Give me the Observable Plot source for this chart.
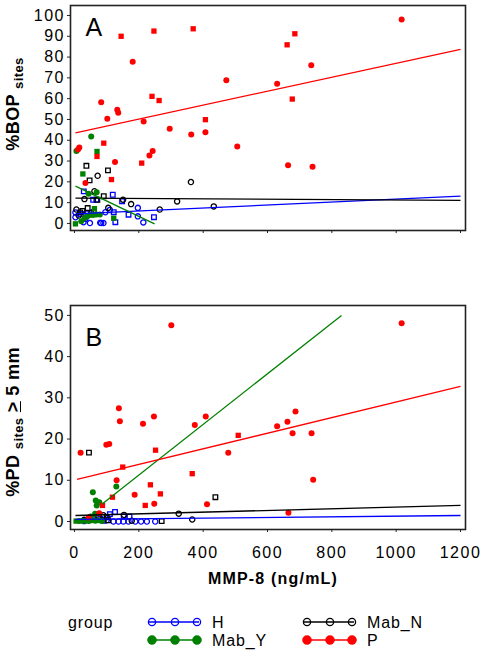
<!DOCTYPE html>
<html><head><meta charset="utf-8">
<script src="https://cdn.jsdelivr.net/npm/d3@7"></script>
<script src="https://cdn.jsdelivr.net/npm/@observablehq/plot@0.6"></script>
<style>
body{margin:0;background:#fff}
#wrap{position:relative;width:485px;height:659px;font-family:"Liberation Sans",Arial,sans-serif;color:#000;background:#fff;overflow:hidden}
.abs{position:absolute}
.ytitle{position:absolute;transform:translate(-50%,-50%) rotate(-90deg);white-space:nowrap;font-weight:bold;font-size:18px;line-height:20px;letter-spacing:0.4px}
.sub{font-size:13px;position:relative;top:4px}
</style></head>
<body><div id="wrap">
<div id="pa" class="abs" style="left:0;top:0"></div>
<div id="pb" class="abs" style="left:0;top:295px"></div>
<div class="ytitle" style="left:14px;top:104px">%BOP <span class="sub">sites</span></div>
<div class="ytitle" style="left:14px;top:422px">%PD <span class="sub">sites</span> <span style="text-decoration:underline">&gt;</span> 5 mm</div>
<div class="abs" style="left:143px;width:260px;top:569px;text-align:center;font-weight:bold;font-size:16px;line-height:20px;letter-spacing:1.2px">MMP-8 (ng/mL)</div>
<div id="legend" class="abs" style="left:0;top:600px"></div>
</div>
<script>
// ---------- data ----------
const groups = ["H", "Mab_N", "Mab_Y", "P"];
const groupColors = ["#0000ff", "#000000", "#008000", "#ff0000"];
const xTicks = [0, 200, 400, 600, 800, 1000, 1200];
const yTicksA = [0, 10, 20, 30, 40, 50, 60, 70, 80, 90, 100];
const yTicksB = [0, 10, 20, 30, 40, 50];

// Panel A: %BOP sites  [MMP-8, %BOP, marker]
const bopH = [[29,15.4,"s"],[119,13.8,"s"],[58,11.4,"s"],[68,11.4,"s"],[148,10.7,"s"],[197,7.5,"c"],[122,5.4,"s"],[168,4.2,"s"],[197,3.4,"c"],[247,3.0,"s"],[214,0.5,"c"],[127,0.6,"s"],[83,0.2,"c"],[90,0.2,"c"],[48,0.2,"c"],[3,3.0,"c"],[34,2.2,"c"],[96,5.4,"c"],[3,5.3,"c"],[28,0.6,"c"],[80,0.3,"c"],[110,6.5,"c"],[20,4.5,"s"],[40,4.8,"s"],[60,5.5,"s"]];
const bopMabN = [[37,27.7,"s"],[47,20.7,"s"],[72,22.9,"c"],[104,25.5,"s"],[62,15.5,"c"],[31,11.7,"c"],[71,11.4,"s"],[91,13.1,"s"],[151,11.4,"c"],[176,9.3,"c"],[319,10.6,"c"],[362,19.9,"c"],[265,6.7,"c"],[433,8.2,"c"],[6,6.7,"c"],[41,7.4,"s"],[105,7.5,"c"],[18,5.3,"s"],[13,3.8,"c"],[25,6.0,"s"],[52,5.0,"c"]];
const bopMabY = [[52,41.8,"c"],[70,34.6,"s"],[6,34.8,"c"],[26,23.8,"s"],[44,14.3,"c"],[69,15.0,"c"],[62,7.1,"s"],[122,2.5,"s"],[3,-0.2,"s"],[48,4.1,"c"],[58,4.1,"c"],[68,4.3,"c"],[79,4.3,"c"],[21,1.1,"c"],[31,2.5,"c"],[40,3.5,"c"]];
const bopP = [[145,90.0,"s"],[247,92.5,"s"],[369,93.6,"s"],[181,77.7,"c"],[472,68.8,"c"],[83,58.3,"c"],[133,54.7,"c"],[136,53.2,"c"],[102,50.3,"c"],[215,49.0,"c"],[241,61.1,"s"],[263,59.1,"s"],[407,49.9,"s"],[407,43.9,"c"],[296,45.5,"c"],[363,42.8,"c"],[506,37.0,"c"],[11,35.6,"c"],[15,36.5,"c"],[91,38.6,"s"],[126,29.5,"c"],[209,29.0,"s"],[243,34.8,"c"],[233,32.7,"c"],[70,32.2,"s"],[115,21.1,"s"],[34,19.4,"c"],[1017,98.1,"c"],[685,91.2,"s"],[661,85.9,"s"],[736,76.1,"c"],[630,67.2,"c"],[677,59.8,"s"],[664,28.0,"c"],[740,27.2,"c"]];
// fitted lines per group (H, Mab_N, Mab_Y, P): [x1, y1, x2, y2]
const bopFits = [[3,4.6,1200,13.1],[3,12.2,1200,11.1],[3,17.9,249,-0.2],[3,43.6,1200,83.7]];

// Panel B: %PD sites >= 5 mm
const pdH = [[121,0,"c"],[137,0,"c"],[152,0,"c"],[168,0,"c"],[189,0,"c"],[207,0,"c"],[225,0,"c"],[251,0,"c"],[90,0.2,"s"],[100,0.3,"c"],[110,1.8,"s"],[126,2.3,"s"],[153,1.2,"s"],[171,1.2,"s"],[60,0.5,"c"],[80,0.6,"s"],[30,0.1,"c"],[45,0.3,"c"]];
const pdMabN = [[45,16.7,"s"],[75,1.3,"c"],[90,1.5,"c"],[100,1.0,"s"],[105,0.3,"s"],[154,1.6,"c"],[178,0.2,"c"],[271,0.1,"s"],[324,1.9,"c"],[366,0.5,"c"],[438,5.9,"s"],[60,0.8,"c"],[30,0.4,"c"]];
const pdMabY = [[57,7.1,"c"],[130,8.5,"c"],[66,5.1,"c"],[77,4.7,"c"],[69,3.9,"c"],[64,1.9,"c"],[5,0.1,"s"],[15,0.1,"c"],[25,0.1,"c"],[35,0.2,"c"],[45,0.1,"c"],[55,0.3,"c"],[65,0.2,"c"],[75,0.3,"c"],[85,0.1,"c"],[50,1.2,"c"]];
const pdP = [[301,47.6,"c"],[19,16.7,"c"],[138,27.5,"c"],[141,24.3,"c"],[99,18.6,"c"],[108,18.8,"c"],[213,23.7,"c"],[247,25.5,"c"],[252,17.3,"s"],[374,23.4,"c"],[408,25.5,"c"],[150,13.2,"s"],[131,10.0,"c"],[366,11.6,"s"],[509,20.9,"s"],[478,16.7,"c"],[236,8.9,"s"],[187,6.5,"c"],[267,6.7,"s"],[220,3.9,"s"],[248,4.3,"c"],[412,4.2,"c"],[118,5.9,"s"],[87,3.9,"s"],[77,2.0,"c"],[44,1.0,"c"],[1017,48.1,"c"],[687,26.7,"c"],[662,24.2,"c"],[630,23.1,"c"],[678,21.4,"c"],[737,21.4,"c"],[742,10.1,"c"],[665,2.1,"c"]];
const pdFits = [[3,0.5,1200,1.46],[3,1.46,1200,3.9],[85,4.2,830,50],[8,10.2,1200,32.8]];

// ---------- build ----------
const rows = (group, arr) => arr.map(([x, y, s]) => ({group, x, y, shape: s}));
const fitRows = fits => fits.map(([x1, y1, x2, y2], i) => ({group: groups[i], x1, y1, x2, y2}));
const font = '"Liberation Sans", Arial, sans-serif';

function panel({open, filled, fits, yDomain, yTicks, height, marginTop, marginBottom, letter, letterDy, xLabels}) {
  const chart = Plot.plot({
    width: 485, height, marginLeft: 70, marginRight: 20, marginTop, marginBottom,
    style: {fontFamily: font, fontSize: "16px", color: "#000", background: "white", overflow: "visible"},
    x: {domain: [-12.4, 1215.5]},
    y: {domain: yDomain},
    color: {domain: groups, range: groupColors},
    symbol: {domain: ["c", "s"], range: ["circle", "square"]},
    marks: [
      Plot.axisY(yTicks, {tickSize: 3, tickPadding: 2.5, label: null, stroke: "#222", fontSize: 16}),
      Plot.axisX(xTicks, {tickSize: 3, tickPadding: 14, label: null, stroke: "#222", fontSize: 16,
        tickFormat: xLabels ? (d => String(d)) : (() => "")}),
      Plot.dot(open, {x: "x", y: "y", stroke: "group", symbol: "shape", r: 2.6, strokeWidth: 1.3, fill: "none"}),
      Plot.dot(filled, {x: "x", y: "y", fill: "group", symbol: "shape", r: 3}),
      Plot.link(fitRows(fits), {x1: "x1", y1: "y1", x2: "x2", y2: "y2", stroke: "group", strokeWidth: 1.3}),
      Plot.frame({stroke: "#222", strokeWidth: 1.6}),
      Plot.text([letter], {frameAnchor: "top-left", dx: 15, dy: letterDy, lineAnchor: "top", textAnchor: "start", fontSize: 25, fill: "#000"})
    ]
  });
  d3.select(chart).selectAll('g[aria-label$="tick label"] text')
    .style("letter-spacing", "1.5px").style("font-size", "16px");
  return chart;
}

document.getElementById("pa").append(panel({
  open: [...rows("H", bopH), ...rows("Mab_N", bopMabN)],
  filled: [...rows("Mab_Y", bopMabY), ...rows("P", bopP)],
  fits: bopFits, yDomain: [-3.4, 104.8], yTicks: yTicksA,
  height: 240, marginTop: 5, marginBottom: 10, letter: "A", letterDy: 13, xLabels: false
}));
document.getElementById("pb").append(panel({
  open: [...rows("H", pdH), ...rows("Mab_N", pdMabN)],
  filled: [...rows("Mab_Y", pdMabY), ...rows("P", pdP)],
  fits: pdFits, yDomain: [-1.94, 52.4], yTicks: yTicksB,
  height: 275, marginTop: 10, marginBottom: 41, letter: "B", letterDy: 23, xLabels: true
}));

// ---------- legend ----------
const legendTitle = "group";
const legendFilled = [false, false, true, true];
const svg = d3.select("#legend").append("svg").attr("width", 485).attr("height", 59)
  .style("font-family", font).style("font-size", "16px").style("letter-spacing", "0.9px");
svg.append("text").attr("x", 68).attr("y", 22).attr("dy", "0.35em").text(legendTitle);
const slots = [[148, 22], [303, 22], [148, 40], [303, 40]];
groups.forEach((g, i) => {
  const [x0, y0] = slots[i];
  const c = groupColors[i];
  const gg = svg.append("g");
  gg.append("line").attr("x1", x0).attr("x2", x0 + 51).attr("y1", y0).attr("y2", y0)
    .attr("stroke", c).attr("stroke-width", 1.3);
  [4, 27, 49].forEach(dx => {
    gg.append("circle").attr("cx", x0 + dx).attr("cy", y0)
      .attr("r", legendFilled[i] ? 4.5 : 3.6)
      .attr("fill", legendFilled[i] ? c : "none")
      .attr("stroke", c).attr("stroke-width", legendFilled[i] ? 0.5 : 1.3);
  });
  gg.append("text").attr("x", x0 + 64).attr("y", y0).attr("dy", "0.35em").text(g);
});
</script>
</body></html>
